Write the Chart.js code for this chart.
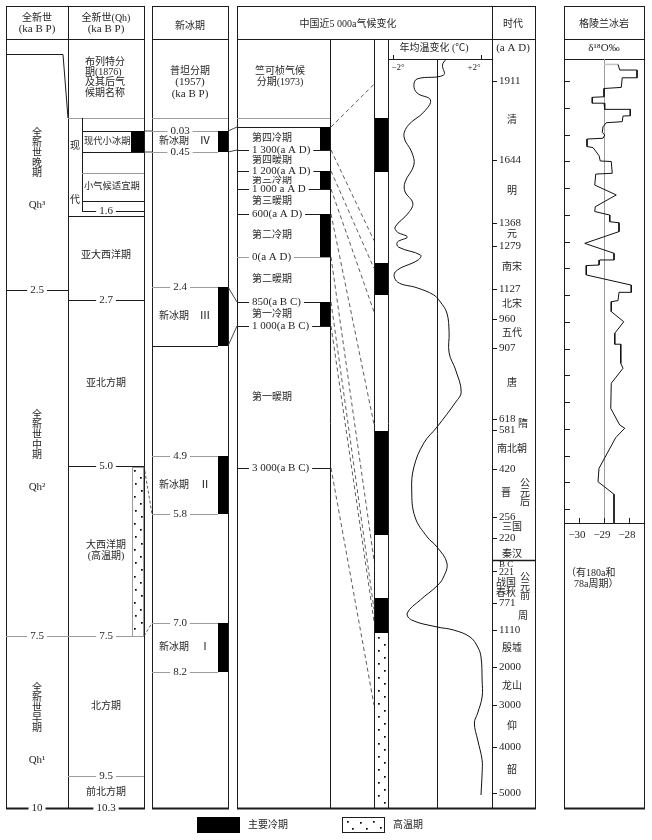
<!DOCTYPE html>
<html lang="zh">
<head>
<meta charset="utf-8">
<title>全新世气候分期对比</title>
<script src="https://cdn.jsdelivr.net/npm/chart.js@4.4.1/dist/chart.umd.min.js"></script>
<style>
  html, body { margin: 0; padding: 0; background: #fff; }
  canvas { display: block; }
</style>
</head>
<body>
<canvas id="chart" width="652" height="840"></canvas>
<script>
// ---- 全新世三分 (ka BP)
var qhBounds = [2.5, 7.5, 10];
var qhLabels = ['2.5', '7.5', '10'];
var qhNames = ['全新世晚期', '全新世中期', '全新世早期'];
var qhCodes = ['Qh³', 'Qh²', 'Qh¹'];

// ---- 布列特分期(1876)
var modernNames = ['现代小冰期', '小气候适宜期'];
var modernFrom = [0.03, 0.85];
var modernTo = [0.45, 1.4];
var blyttNames = ['亚大西洋期', '亚北方期', '大西洋期\n(高温期)', '北方期', '前北方期'];
var blyttBounds = [1.6, 2.7, 5.0, 7.5, 9.5, 10.3];
var blyttLabels = ['1.6', '2.7', '5.0', '7.5', '9.5', '10.3'];
var blyttWarm = [5.0, 7.5];

// ---- 普坦分期(1957) 新冰期
var neoNums = ['Ⅳ', 'Ⅲ', 'Ⅱ', 'Ⅰ'];
var neoFrom = [0.03, 2.4, 4.9, 7.0];
var neoTo = [0.45, 3.3, 5.8, 8.2];
var neoFromLabels = ['0.03', '2.4', '4.9', '7.0'];
var neoToLabels = ['0.45', '', '5.8', '8.2'];

// ---- 竺可桢气候分期(1973), aAD (BC 为负)
var zhuNames = ['第四冷期', '第四暖期', '第三冷期', '第三暖期', '第二冷期', '第二暖期', '第一冷期', '第一暖期'];
var zhuBounds = [1900, 1300, 1200, 1000, 600, 0, -850, -1000, -3000];
var zhuLabels = ['', '1 300(a A D)', '1 200(a A D)', '1 000 a A D', '600(a A D)', '0(a A D)', '850(a B C)', '1 000(a B C)', '3 000(a B C)'];

// ---- connecting lines between columns
var neoToZhu = [[0.03, 1900], [0.45, 1300], [2.4, -850], [3.3, -1000]];
var blyttToNeo = [[0.03, 0.03], [0.45, 0.45]];
var blyttToNeoDashed = [[5.0, 5.8], [7.5, 7.0]];

// ---- 主要冷期 / 高温期 on the time axis (aAD)
var coldFrom = [1590, 1095, 225, -1180];
var coldTo = [1785, 1220, 575, -680];
var warmFrom = [-5330];
var warmTo = [-1180];

// ---- 时代 axis
var timeTicks = [1911, 1644, 1368, 1279, 1127, 960, 907, 618, 581, 420, 256, 220, -221, -771, -1110, -2000, -3000, -4000, -5000];
var timeLabels = ['1911', '1644', '1368', '1279', '1127', '960', '907', '618', '581', '420', '256', '220', '221', '771', '1110', '2000', '3000', '4000', '5000'];
var dynNames = ['清', '明', '元', '南宋', '北宋', '五代', '唐', '隋', '南北朝', '晋', '三国', '秦汉', '战国\n春秋', '周', '殷墟', '龙山', '仰', '韶'];
var dynFrom = [1644, 1368, 1279, 1127, 960, 907, 618, 581, 420, 256, 220, -221, -771, -1110, -2000, -3000, -4000, -5000];
var dynTo = [1911, 1644, 1368, 1279, 1127, 960, 907, 618, 581, 420, 256, 220, -221, -771, -1110, -2000, -3000, -4000];
var dynSide = ['隋', '周'];
var eraNames = ['公元后', '公元前'];
var eraRows = ['晋', '战国\n春秋'];

// ---- 年均温变化 (℃)
var tempYear = [1984, 1965, 1931, 1918, 1897, 1870, 1847, 1806, 1762, 1722, 1671, 1622, 1548, 1504, 1456, 1412, 1353, 1333, 1314, 1294,
  1275, 1247, 1230, 1187, 1152, 1131, 1094, 1055, 993, 936, 887, 817, 728, 687, 591, 527, 428, 348, 256, 222,
  130, -60, -324, -478, -716, -897, -985, -1072, -1110, -1278, -1519, -1759, -2342, -2789, -3190, -3428, -3833, -4282, -4564, -5044];
var tempVal = [0.4, 0.25, 0.3, -0.9, -1.05, -0.9, -0.3, -0.6, -1.3, -1.5, -1.15, -1.05, -1.45, -1.45, -1.1, -1.3, -1.9, -1.8, -1.35, -1.8,
  -1.75, -0.75, -0.85, -1.9, -1.8, -0.9, -0.15, 0.15, 0.45, 0.55, 0.55, 0.85, 1.1, 0.85, 0, -0.6, -1.05, -1.15, -1.0, -0.45,
  0, 0.45, 0.3, 0, -0.75, -1.35, -1.15, 0, 0.75, 1.5, 1.85, 2.0, 2.05, 2.05, 1.85, 1.7, 1.85, 2.05, 2.05, 2.0];
var tempTicks = [-2, 2];
var tempTickLabels = ['−2°', '+2°'];

// ---- 格陵兰冰岩 δ18O‰
var iceYear = [1962, 1941, 1941, 1912, 1912, 1876, 1872, 1841, 1839, 1817, 1817, 1794, 1794, 1770, 1769, 1748, 1744, 1729, 1708, 1698,
  1686, 1683, 1655, 1651, 1621, 1601, 1599, 1555, 1552, 1511, 1474, 1430, 1412, 1399, 1374, 1370, 1337, 1293, 1256, 1231,
  1231, 1212, 1210, 1175, 1137, 1110, 1110, 1079, 1075, 1038, 1000, 957, 916, 916, 845, 826, 770, 676, 614, 602,
  567, 452, 402, 355, 248];
var iceVal = [-28.44, -28.37, -27.68, -27.68, -28.27, -28.31, -29.0, -29.0, -29.47, -29.47, -29.0, -28.97, -27.95, -27.95, -28.24, -28.27, -28.91, -29.04, -29.07, -28.97,
  -29.04, -29.68, -29.68, -29.44, -29.2, -29.15, -28.71, -28.67, -29.33, -29.37, -28.51, -29.35, -29.37, -28.77, -28.77, -28.4, -28.4, -29.77, -28.6, -28.6,
  -29.17, -29.2, -29.71, -29.71, -27.91, -27.91, -28.4, -28.44, -28.71, -28.71, -28.21, -28.57, -28.57, -28.33, -28.33, -28.24, -28.71, -28.73, -28.37, -28.17,
  -28.53, -29.2, -29.24, -28.6, -28.6];
var iceTopYear = [1962, 1962];
var iceTopVal = [-29, -28.44];
var iceTicks = [1900, 1800, 1700, 1600, 1500, 1400, 1300, 1200, 1100, 1000, 900, 800, 700, 600, 500, 400, 300];
var iceAxis = [-30, -29, -28];
var iceAxisLabels = ['−30', '−29', '−28'];

// ---------- axes: value -> position (of 840) knots, one list per column
var KNOTS = {
  yKa: [[0.03, 131], [0.45, 152], [1.6, 211], [2.4, 287], [2.5, 290], [2.7, 300], [3.3, 346], [4.9, 456], [5.0, 466],
    [5.8, 514], [7.0, 623], [7.5, 636], [8.2, 672], [9.5, 776], [10, 808], [10.3, 808]],
  yZhu: [[1900, 127], [1300, 150], [1200, 171], [1000, 189], [600, 214], [0, 257], [-850, 302], [-1000, 326], [-3000, 468], [-5330, 808]],
  yTime: [[1985, 59], [1911, 81], [1644, 160], [1368, 223], [1279, 246], [1127, 289], [960, 319], [907, 348], [618, 419], [581, 430],
    [420, 469], [256, 517], [220, 538], [0, 560], [-221, 571], [-771, 603], [-1110, 630], [-2000, 667], [-3000, 705], [-4000, 747],
    [-5000, 793], [-5330, 808]],
  yIce: [[1900, 81], [300, 509]]
};

class KnotScale extends Chart.LinearScale {
  static id = 'knot';
  static defaults = {};
  getPixelForValue(v) {
    var k = KNOTS[this.id], n = k.length, asc = k[n - 1][0] > k[0][0], i;
    for (i = 0; i < n - 2; i++) {
      if (asc ? v <= k[i + 1][0] : v >= k[i + 1][0]) break;
    }
    var p = k[i], q = k[i + 1];
    var pos = q[0] === p[0] ? p[1] : p[1] + (v - p[0]) * (q[1] - p[1]) / (q[0] - p[0]);
    return this.top + pos * (this.bottom - this.top) / 840;
  }
  getValueForPixel(px) {
    var pos = (px - this.top) * 840 / (this.bottom - this.top);
    var k = KNOTS[this.id], i;
    for (i = 0; i < k.length - 2; i++) if (pos <= k[i + 1][1]) break;
    var p = k[i], q = k[i + 1];
    return q[1] === p[1] ? p[0] : p[0] + (pos - p[1]) * (q[0] - p[0]) / (q[1] - p[1]);
  }
}
Chart.register(KnotScale);

// linear x axis over the whole canvas width, pinned by two value/pixel pairs
function fitAxis(v1, p1, v2, p2) {
  var k = (v2 - v1) / (p2 - p1);
  return { type: 'linear', display: false, bounds: 'data', min: v1 - p1 * k, max: v1 + (652 - p1) * k };
}

// ---------- drawing helpers
var INK = '#1c1c1c', TXT = '#262626', GREY = '#9c9c9c';
var F_CJK = '10px "Liberation Serif", "Noto Sans CJK SC", sans-serif';
var F_CJK_S = '9.3px "Liberation Serif", "Noto Sans CJK SC", sans-serif';
var F_NUM = '11px "Liberation Serif", "Noto Sans CJK SC", serif';
var F_SMALL = '9px "Liberation Serif", "Noto Sans CJK SC", serif';

function fontFor(s) { return /[\u3400-\u9fff\uff08\uff09]/.test(s) ? F_CJK : F_NUM; }
function seg(ctx, x1, y1, x2, y2, col, w, dash) {
  ctx.save();
  ctx.strokeStyle = col || INK;
  ctx.lineWidth = w || 1;
  ctx.setLineDash(dash || []);
  ctx.beginPath(); ctx.moveTo(x1, y1); ctx.lineTo(x2, y2); ctx.stroke();
  ctx.restore();
}
function hline(ctx, x1, x2, y, col, w) { var yy = Math.round(y) + 0.5; seg(ctx, x1, yy, x2, yy, col, w); }
function vline(ctx, x, y1, y2, col, w) { var xx = Math.round(x) + 0.5; seg(ctx, xx, y1, xx, y2, col, w); }
function label(ctx, s, x, y, align, font) {
  ctx.save();
  ctx.font = font || fontFor(s);
  ctx.fillStyle = TXT;
  ctx.textAlign = align || 'center';
  ctx.textBaseline = 'middle';
  ctx.fillText(s, x, y);
  ctx.restore();
}
function lines(ctx, s, x, y, align, step) {
  var parts = s.split('\n'), h = step || 11;
  parts.forEach(function (p, k) { label(ctx, p, x, y + (k - (parts.length - 1) / 2) * h, align); });
}
function tag(ctx, s, x, y, align) {
  if (!s) return;
  ctx.save();
  ctx.font = fontFor(s);
  var w = ctx.measureText(s).width;
  var left = align === 'left' ? x : x - w / 2;
  ctx.fillStyle = '#fff';
  ctx.fillRect(left - 3, y - 5, w + 6, 10);
  ctx.restore();
  label(ctx, s, x, y, align);
}
function vtext(ctx, s, x, yc, step) {
  var n = s.length;
  for (var k = 0; k < n; k++) label(ctx, s[k], x, yc + (k - (n - 1) / 2) * step);
}
function fillBar(ctx, x1, y1, x2, y2) {
  ctx.save(); ctx.fillStyle = '#000';
  ctx.fillRect(x1, Math.round(y1), x2 - x1, Math.round(y2) - Math.round(y1));
  ctx.restore();
}
function dotBar(ctx, x1, y1, x2, y2, border) {
  ctx.save();
  ctx.fillStyle = '#fff'; ctx.fillRect(x1, y1, x2 - x1, y2 - y1);
  if (border) { ctx.strokeStyle = GREY; ctx.strokeRect(x1 + 0.5, y1 + 0.5, x2 - x1 - 1, y2 - y1); }
  ctx.fillStyle = '#000';
  var k = 0;
  for (var y = y1 + 4; y < y2 - 2; y += 6.6, k++) {
    var fx = [0.28, 0.74, 0.33, 0.8][k % 4];
    ctx.fillRect(Math.round(x1 + fx * (x2 - x1)) - 1, Math.round(y) - 1, 1.7, 1.7);
  }
  ctx.restore();
}
function box(ctx, x1, y1, x2, y2) {
  ctx.save(); ctx.strokeStyle = INK; ctx.lineWidth = 1;
  ctx.strokeRect(x1 + 0.5, y1 + 0.5, x2 - x1, y2 - y1);
  ctx.restore();
}

function drawTable(chart) {
  var ctx = chart.ctx, sc = chart.scales, i, a, b, m;
  var ka = function (v) { return sc.yKa.getPixelForValue(v); };
  var zy = function (v) { return sc.yZhu.getPixelForValue(v); };
  var ty = function (v) { return sc.yTime.getPixelForValue(v); };
  var iy = function (v) { return sc.yIce.getPixelForValue(v); };
  var tx = function (v) { return sc.xTemp.getPixelForValue(v); };
  var ix = function (v) { return sc.xIce.getPixelForValue(v); };
  var T = 6, HD = 39, SB = 59, B = 808;

  // frames
  box(ctx, 6, T, 144, B); box(ctx, 152, T, 228, B); box(ctx, 237, T, 535, B); box(ctx, 564, T, 644, B);
  vline(ctx, 68, T, B);
  hline(ctx, 6, 144, HD); hline(ctx, 152, 228, HD); hline(ctx, 237, 535, HD); hline(ctx, 564, 644, HD);

  // ---- column 1: 全新世
  label(ctx, '全新世', 37, 18); label(ctx, '(ka B P)', 37, 29);
  seg(ctx, 6, 54.5, 63, 54.5); seg(ctx, 63, 54.5, 68, 118);
  var top = 54;
  for (i = 0; i < qhBounds.length; i++) {
    b = ka(qhBounds[i]);
    if (i < qhBounds.length - 1) hline(ctx, 6, 68, b, qhLabels[i] === '7.5' ? GREY : INK);
    m = top + (b - top) * 0.42;
    vtext(ctx, qhNames[i], 37, m, 10);
    label(ctx, qhCodes[i], 37, m + 52);
    top = b;
  }

  // ---- column 2: 布列特分期
  label(ctx, '全新世(Qh)', 106, 18); label(ctx, '(ka B P)', 106, 29);
  ['布列特分', '期(1876)', '及其后气', '候期名称'].forEach(function (s, k) { label(ctx, s, 85, 62 + k * 10.3, 'left'); });
  hline(ctx, 68, 144, 118, GREY);
  var y16 = ka(blyttBounds[0]);
  vline(ctx, 82, 118, y16);
  label(ctx, '现', 75, 146); label(ctx, '代', 75, 200);
  for (i = 0; i < modernNames.length; i++) {
    a = ka(modernFrom[i]); b = ka(modernTo[i]);
    hline(ctx, 82, 144, a, i ? GREY : INK); hline(ctx, 82, 144, b);
    if (modernNames[i].indexOf('冰') >= 0) fillBar(ctx, 131, a, 144, b);
    label(ctx, modernNames[i], 84, (a + b) / 2, 'left', F_CJK_S);
  }
  for (i = 0; i < blyttNames.length; i++) {
    lines(ctx, blyttNames[i], 106, (ka(blyttBounds[i]) + ka(blyttBounds[i + 1])) / 2);
  }
  for (i = 0; i < blyttBounds.length - 1; i++) {
    b = ka(blyttBounds[i]);
    var grey = blyttLabels[i] === '7.5' || blyttLabels[i] === '9.5';
    if (i === 0) { hline(ctx, 82, 144, b); hline(ctx, 68, 144, b + 5); }
    else hline(ctx, 68, 144, b, grey ? GREY : INK);
  }
  dotBar(ctx, 132, ka(blyttWarm[0]) + 1, 144, ka(blyttWarm[1]), true);

  // ---- column 3: 新冰期
  label(ctx, '新冰期', 190, 26);
  label(ctx, '普坦分期', 190, 71); label(ctx, '(1957)', 190, 82); label(ctx, '(ka B P)', 190, 94);
  hline(ctx, 152, 228, 118, GREY);
  for (i = 0; i < neoFrom.length; i++) {
    a = ka(neoFrom[i]); b = ka(neoTo[i]);
    hline(ctx, 152, 218, a, GREY); hline(ctx, 152, 218, b, neoToLabels[i] ? GREY : INK);
    fillBar(ctx, 218, a, 228, b);
    m = (a + b) / 2;
    label(ctx, '新冰期', 159, m, 'left');
    label(ctx, neoNums[i], 205, m);
  }

  // ---- column 4: 竺可桢分期
  label(ctx, '中国近5 000a气候变化', 348, 24);
  label(ctx, '竺可桢气候', 280, 71); label(ctx, '分期(1973)', 280, 82);
  hline(ctx, 237, 330, 118, GREY);
  vline(ctx, 330, HD, B); vline(ctx, 374, HD, B); vline(ctx, 388, HD, B); vline(ctx, 492, T, B);
  for (i = 0; i < zhuBounds.length; i++) {
    hline(ctx, 237, 330, zy(zhuBounds[i]), zhuLabels[i] === '0(a A D)' ? GREY : INK);
  }
  for (i = 0; i < zhuNames.length; i++) {
    a = zy(zhuBounds[i]); b = zy(zhuBounds[i + 1]);
    if (zhuNames[i].indexOf('冷') >= 0) fillBar(ctx, 320, a, 330, b);
    label(ctx, zhuNames[i], 252, (a + b) / 2, 'left');
  }
  for (i = 0; i < zhuBounds.length; i++) tag(ctx, zhuLabels[i], 252, zy(zhuBounds[i]), 'left');

  // connectors
  zhuBounds.forEach(function (v) { seg(ctx, 331, zy(v), 374, ty(v), '#333', 0.8, [4, 3]); });
  neoToZhu.forEach(function (p) { seg(ctx, 228, ka(p[0]), 237, zy(p[1]), '#333', 0.9); });
  blyttToNeo.forEach(function (p) { seg(ctx, 144, ka(p[0]), 152, ka(p[1]), '#333', 0.9); });
  blyttToNeoDashed.forEach(function (p) { seg(ctx, 144, ka(p[0]), 152, ka(p[1]), '#333', 0.8, [3, 2]); });

  // ---- cold / warm bar column
  for (i = 0; i < coldFrom.length; i++) fillBar(ctx, 375, ty(coldTo[i]), 388, ty(coldFrom[i]));
  for (i = 0; i < warmFrom.length; i++) dotBar(ctx, 375, ty(warmTo[i]) + 1, 388, ty(warmFrom[i]), false);

  // ---- temperature header
  hline(ctx, 388, 492, SB);
  label(ctx, '年均温变化 (℃)', 434, 48);
  tempTicks.forEach(function (v, k) {
    vline(ctx, tx(v), SB - 4, SB);
    label(ctx, tempTickLabels[k], tx(v) + (v < 0 ? 5 : -7), 68, 'center', F_SMALL);
  });
  vline(ctx, tx(0), SB, B);

  // ---- 时代 column
  label(ctx, '时代', 513, 24); label(ctx, '(a A D)', 513, 48);
  hline(ctx, 492, 535, ty(0), INK, 1.5);
  timeTicks.forEach(function (v, k) {
    var y = ty(v);
    hline(ctx, 492, 497, y);
    if (v === -221) {
      label(ctx, 'B C', 499, y - 6, 'left', F_SMALL);
      label(ctx, timeLabels[k], 499, y + 1, 'left', '10px "Liberation Serif", serif');
    } else {
      label(ctx, timeLabels[k], 499, y, 'left');
    }
  });
  for (i = 0; i < dynNames.length; i++) {
    m = (ty(dynFrom[i]) + ty(dynTo[i])) / 2;
    var era = eraRows.indexOf(dynNames[i]);
    var x = dynSide.indexOf(dynNames[i]) >= 0 ? 523 : (era >= 0 ? 506 : 512);
    lines(ctx, dynNames[i], x, m + (dynNames[i].indexOf('\n') >= 0 ? 1.5 : 0), 'center', 10);
    if (era >= 0) vtext(ctx, eraNames[era], 525, m, 9.5);
  }

  // ---- 格陵兰冰岩 column
  label(ctx, '格陵兰冰岩', 604, 24); label(ctx, 'δ¹⁸O‰', 604, 48);
  hline(ctx, 564, 644, SB);
  var iceBot = iy(iceYear[iceYear.length - 1]);
  hline(ctx, 564, 644, iceBot);
  vline(ctx, ix(-29), SB, iceBot, GREY);
  iceTicks.forEach(function (v) { hline(ctx, 564, 570, iy(v)); });
  iceAxis.forEach(function (v, k) {
    vline(ctx, ix(v), iceBot - 5, iceBot);
    label(ctx, iceAxisLabels[k], ix(v) - 2, iceBot + 12);
  });
  label(ctx, '（有180a和', 566, 573, 'left');
  label(ctx, '78a周期）', 574, 584, 'left');

  // ---- bottom labels and thick base line
  [[6, 144], [152, 228], [237, 535], [564, 644]].forEach(function (p) { hline(ctx, p[0], p[1] + 1, B, INK, 2); });
  tag(ctx, qhLabels[qhLabels.length - 1], 37, B + 0.5);
  for (i = 0; i < blyttBounds.length; i++) tag(ctx, blyttLabels[i], 106, i === 0 ? y16 : ka(blyttBounds[i]) + (i === blyttBounds.length - 1 ? 0.5 : 0));
  for (i = 0; i < qhBounds.length - 1; i++) tag(ctx, qhLabels[i], 37, ka(qhBounds[i]));
  for (i = 0; i < neoFrom.length; i++) {
    tag(ctx, neoFromLabels[i], 180, ka(neoFrom[i]));
    tag(ctx, neoToLabels[i], 180, ka(neoTo[i]));
  }

  // ---- legend
  fillBar(ctx, 197, 817, 240, 833);
  label(ctx, '主要冷期', 248, 825, 'left');
  ctx.save(); ctx.strokeStyle = INK; ctx.strokeRect(342.5, 817.5, 42, 15);
  ctx.fillStyle = '#000';
  [[347, 821], [352, 828], [360, 822], [366, 828], [373, 821], [380, 827]].forEach(function (p) { ctx.fillRect(p[0], p[1], 1.7, 1.7); });
  ctx.restore();
  label(ctx, '高温期', 393, 825, 'left');
}

var tablePlugin = {
  id: 'tableFrame',
  beforeDraw: function (chart) {
    var ctx = chart.ctx;
    ctx.save(); ctx.fillStyle = '#fff'; ctx.fillRect(0, 0, chart.width, chart.height); ctx.restore();
  },
  beforeDatasetsDraw: function (chart) {
    chart.ctx.save();
    drawTable(chart);
    chart.ctx.restore();
  }
};

function points(xs, ys) { return xs.map(function (v, k) { return { x: v, y: ys[k] }; }); }

new Chart(document.getElementById('chart'), {
  type: 'line',
  data: {
    datasets: [
      { label: '年均温变化', data: points(tempVal, tempYear), xAxisID: 'xTemp', yAxisID: 'yTime',
        borderColor: '#111', borderWidth: 1, pointRadius: 0, tension: 0.4, fill: false },
      { label: 'δ18O', data: points(iceVal, iceYear), xAxisID: 'xIce', yAxisID: 'yIce',
        borderColor: '#111', borderWidth: 1, pointRadius: 0, tension: 0, fill: false },
      { label: 'δ18O top', data: points(iceTopVal, iceTopYear), xAxisID: 'xIce', yAxisID: 'yIce',
        borderColor: '#c4c4c4', borderWidth: 1.5, pointRadius: 0, tension: 0, fill: false }
    ]
  },
  options: {
    responsive: false,
    animation: false,
    events: [],
    devicePixelRatio: 1,
    layout: { autoPadding: false, padding: 0 },
    plugins: { legend: { display: false }, tooltip: { enabled: false }, title: { display: false } },
    scales: {
      xTemp: fitAxis(tempTicks[0], 393, tempTicks[1], 481),
      xIce: fitAxis(iceAxis[0], 579, iceAxis[2], 629),
      yKa: { type: 'knot', axis: 'y', display: false },
      yZhu: { type: 'knot', axis: 'y', display: false },
      yTime: { type: 'knot', axis: 'y', display: false },
      yIce: { type: 'knot', axis: 'y', display: false }
    }
  },
  plugins: [tablePlugin]
});
</script>
</body>
</html>
